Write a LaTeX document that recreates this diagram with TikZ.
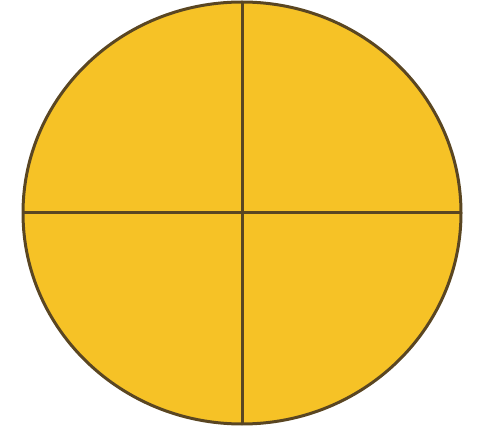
\documentclass[tikz,border=0pt]{standalone}
\usepackage{tikz}
\definecolor{disc}{HTML}{F6C226}
\definecolor{rim}{HTML}{5A4622}

\begin{document}
\begin{tikzpicture}[x=1pt, y=-1pt,
    piece/.style={draw=rim, line width=3pt}]

  % canvas
  \useasboundingbox (0,0) rectangle (487,427);

  % disc
  \coordinate (ctr) at (242,213);
  \draw[piece, fill=disc] (ctr) ellipse [x radius=219, y radius=211];

  % cuts
  \coordinate (top) at (242,2);
  \coordinate (bot) at (242,424);
  \coordinate (lft) at (23,213);
  \coordinate (rgt) at (461,213);
  \draw[piece] (top) -- (bot);
  \draw[piece] (lft) -- (rgt);
\end{tikzpicture}
\end{document}
